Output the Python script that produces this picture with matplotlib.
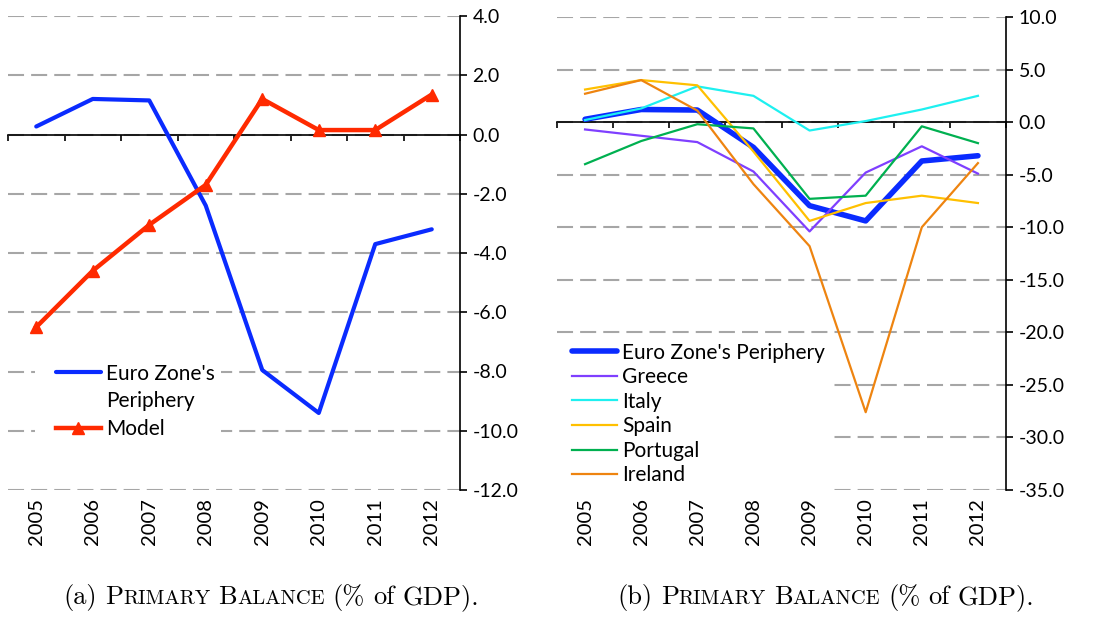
import matplotlib
matplotlib.use("Agg")
import matplotlib.pyplot as plt
from matplotlib.lines import Line2D
from matplotlib.legend_handler import HandlerLine2D

# Primary balance, % of GDP
years = ["2005", "2006", "2007", "2008", "2009", "2010", "2011", "2012"]
periphery = [0.27, 1.2, 1.15, -2.4, -7.95, -9.4, -3.7, -3.2]
model = [-6.5, -4.6, -3.05, -1.7, 1.2, 0.15, 0.15, 1.35]

greece = [-0.7, -1.3, -1.9, -4.7, -10.4, -4.8, -2.3, -4.9]
italy = [0.2, 1.3, 3.4, 2.5, -0.8, 0.1, 1.2, 2.5]
spain = [3.1, 4.0, 3.5, -2.8, -9.4, -7.7, -7.0, -7.7]
portugal = [-4.0, -1.8, -0.2, -0.6, -7.3, -7.0, -0.4, -2.0]
ireland = [2.7, 4.0, 1.1, -5.9, -11.8, -27.6, -10.0, -3.9]

countries = ["Greece", "Italy", "Spain", "Portugal", "Ireland"]
country_data = [greece, italy, spain, portugal, ireland]
country_colors = ["#7F3FFF", "#1EF0F0", "#FFC000", "#00B050", "#EE8410"]

BLUE = "#0A2BFF"
RED = "#FF2A00"
FONT = "Lato"
LEG_FS = 15

plt.rcParams["font.family"] = FONT
plt.rcParams["axes.unicode_minus"] = False


def style_axes(ax, ymin, ymax, step):
    x = list(range(len(years)))
    ax.set_xlim(-0.5, len(years) - 0.5)
    ax.set_ylim(ymin, ymax)
    ticks = [ymin + i * step for i in range(int(round((ymax - ymin) / step)) + 1)]
    ax.set_yticks(ticks, labels=["%.1f" % t for t in ticks])
    ax.yaxis.tick_right()
    ax.tick_params(axis="y", direction="out", length=5, width=1.2, pad=4,
                   labelsize=14)
    ax.yaxis.grid(True, color="#A6A6A6", lw=1.5, ls=(0, (7.7, 3.4)))
    ax.set_axisbelow(True)
    for side in ["left", "top"]:
        ax.spines[side].set_visible(False)
    ax.spines["right"].set_linewidth(1.2)
    # category axis crosses at zero
    ax.spines["bottom"].set_position(("data", 0))
    ax.spines["bottom"].set_linewidth(1.2)
    ax.set_xticks([])
    ax.set_xticks([i - 0.5 for i in range(len(years) + 1)], minor=True)
    ax.tick_params(axis="x", which="minor", direction="out", length=4, width=1.2)
    sec = ax.secondary_xaxis("bottom")
    sec.set_xticks(x, labels=years, rotation=90, fontsize=14.5, family=FONT)
    sec.tick_params(length=0, pad=6)
    sec.spines["bottom"].set_visible(False)
    return x


def caption(fig, xc, y, pieces, big=19, small=14.8, space=8):
    # small caps built from pieces of two sizes
    renderer = fig.canvas.get_renderer()
    texts, widths = [], []
    for s, is_small, gap in pieces:
        t = fig.text(0, y, s, fontsize=small if is_small else big,
                     family="cmr10", va="baseline")
        texts.append(t)
        widths.append(t.get_window_extent(renderer).width + gap * space)
    W = fig.bbox.width
    x = xc * W - sum(widths) / 2
    for t, w in zip(texts, widths):
        t.set_x(x / W)
        x += w


def legend_opts(xpad):
    return dict(fontsize=LEG_FS, frameon=True, fancybox=False, framealpha=1,
                edgecolor="none", handlelength=2.16 + xpad, handletextpad=0.24,
                borderpad=0.3, borderaxespad=0,
                handler_map={Line2D: HandlerLine2D(xpad=xpad)})


fig = plt.figure(figsize=(10.96, 6.18), dpi=100)
ax1 = fig.add_axes([8 / 1096, 128 / 618, 452 / 1096, 474 / 618])
ax2 = fig.add_axes([557 / 1096, 128 / 618, 449 / 1096, 473 / 618])

# (a)
x = style_axes(ax1, -12, 4, 2)
ax1.plot(x, periphery, color=BLUE, lw=3, solid_capstyle="round", zorder=3)
ax1.plot(x, model, color=RED, lw=3.2, marker="^", ms=8, zorder=3)
h_blue = Line2D([], [], color=BLUE, lw=3, solid_capstyle="round")
h_none = Line2D([], [], color="none")
h_red = Line2D([], [], color=RED, lw=3.2, marker="^", ms=8)
leg1 = ax1.legend([h_blue, h_none, h_red], ["Euro Zone's", "Periphery", "Model"],
                  loc="upper left", bbox_to_anchor=(0.06, 0.28),
                  labelspacing=0.38, **legend_opts(0.7))
leg1.set_zorder(5)

# (b)
x = style_axes(ax2, -35, 10, 5)
ax2.plot(x, periphery, color=BLUE, lw=4, solid_capstyle="round", zorder=3,
         label="Euro Zone's Periphery")
for name, vals, col in zip(countries, country_data, country_colors):
    ax2.plot(x, vals, color=col, lw=1.6, zorder=3, label=name)
leg2 = ax2.legend(loc="upper left", bbox_to_anchor=(0.0, 0.325),
                  labelspacing=0.22, **legend_opts(0.43))
leg2.set_zorder(5)

cap_a = [("(a)", False, 1), ("P", False, 0), ("RIMARY", True, 1), ("B", False, 0),
         ("ALANCE", True, 1), ("(%", False, 1), ("of", False, 1), ("GDP).", False, 0)]
cap_b = [("(b)", False, 1)] + cap_a[1:]
caption(fig, 271 / 1096, 14 / 618, cap_a)
caption(fig, 826 / 1096, 14 / 618, cap_b)

fig.savefig("out.png", dpi=100)
